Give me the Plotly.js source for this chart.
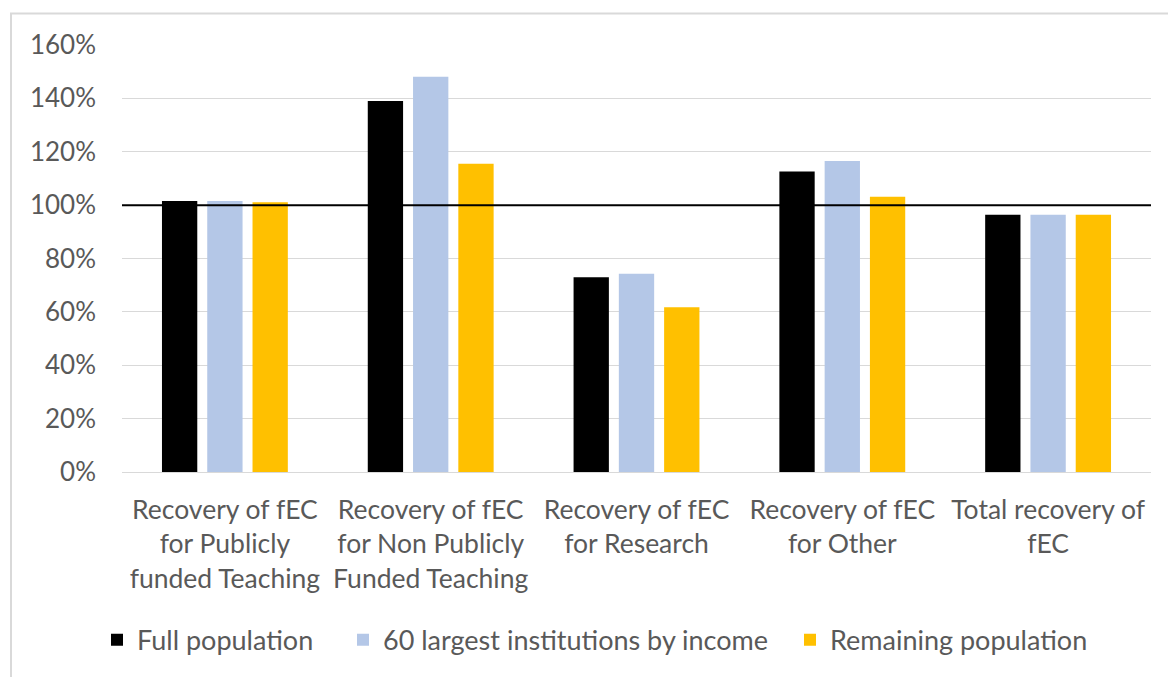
<!DOCTYPE html>
<html>
<head>
<meta charset="utf-8">
<script src="https://cdn.plot.ly/plotly-3.0.1.min.js"></script>
<style>html,body{margin:0;padding:0;background:#fff;}#chart{width:1168px;height:677px;}</style>
</head>
<body>
<div id="chart"></div>
<script>
var categories = [
  "Recovery of fEC<br>for Publicly<br>funded Teaching",
  "Recovery of fEC<br>for Non Publicly<br>Funded Teaching",
  "Recovery of fEC<br>for Research",
  "Recovery of fEC<br>for Other",
  "Total recovery of<br>fEC"
];
var seriesNames = ["Full population", "60 largest institutions by income", "Remaining population"];
var fullPopulation = [1.015, 1.39, 0.73, 1.126, 0.964];
var largest60 = [1.015, 1.481, 0.743, 1.165, 0.964];
var remaining = [1.011, 1.155, 0.617, 1.031, 0.964];
var colors = ["#000000", "#B4C7E7", "#FFC000"];
var yTickVals = [0, 0.2, 0.4, 0.6, 0.8, 1.0, 1.2, 1.4, 1.6];
var refLine = 1.0;

var fontFam = "Lato, 'Open Sans', sans-serif";
var legendIds = ["legend", "legend2", "legend3"];
var allVals = [fullPopulation, largest60, remaining];
var traces = allVals.map(function (v, i) {
  return {
    type: "bar",
    name: seriesNames[i],
    x: categories,
    y: v,
    legend: legendIds[i],
    marker: {color: colors[i], line: {width: 0}},
    hoverinfo: "y"
  };
});

var L = 122, R = 17, T = 44.5, B = 204.5;
var W = 1168, H = 677;
var pw = W - L - R, ph = H - T - B;

function legendAt(px) {
  return {
    orientation: "h",
    x: (px - L) / pw, xanchor: "left",
    y: -(641 - (T + ph)) / ph, yanchor: "middle",
    font: {family: fontFam, size: 27, color: "#595959"},
    itemwidth: 30,
    bgcolor: "rgba(0,0,0,0)"
  };
}

var layout = {
  width: W, height: H,
  margin: {l: L, r: R, t: T, b: B, pad: 0},
  paper_bgcolor: "#ffffff",
  plot_bgcolor: "#ffffff",
  barmode: "group",
  bargap: 0.34,
  bargroupgap: 0.22,
  font: {family: fontFam, color: "#595959", size: 26},
  xaxis: {
    showgrid: false,
    showline: true, linecolor: "#d9d9d9", linewidth: 1,
    ticks: "",
    tickfont: {family: fontFam, size: 26.5, color: "#595959"},
    ticklabelstandoff: 14,
    tickangle: 0
  },
  yaxis: {
    range: [0, 1.6],
    tickvals: yTickVals,
    tickformat: ".0%",
    showgrid: true, gridcolor: "#d9d9d9", gridwidth: 1,
    zeroline: false,
    showline: false,
    ticks: "",
    tickfont: {family: fontFam, size: 26, color: "#595959"},
    ticklabelstandoff: 25
  },
  showlegend: true,
  legend: legendAt(97),
  legend2: legendAt(343),
  legend3: legendAt(790),
  shapes: [
    {type: "line", xref: "paper", x0: 0, x1: 1, yref: "y", y0: refLine, y1: refLine,
     line: {color: "#000000", width: 2}, layer: "above"},
    {type: "rect", xref: "paper", yref: "paper",
     x0: (11 - L) / pw, x1: (1200 - L) / pw,
     y0: -(700 - (T + ph)) / ph, y1: (T + ph - 13) / ph,
     line: {color: "#d9d9d9", width: 2}, fillcolor: "rgba(0,0,0,0)", layer: "below"}
  ]
};

Plotly.newPlot("chart", traces, layout, {displayModeBar: false, staticPlot: true});
</script>
</body>
</html>
